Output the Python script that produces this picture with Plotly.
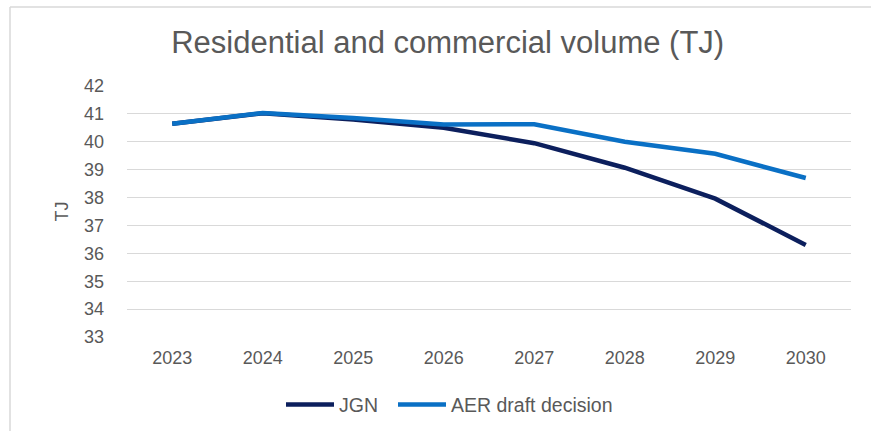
import plotly.graph_objects as go

years = ["2023", "2024", "2025", "2026", "2027", "2028", "2029", "2030"]
jgn = [40.65, 41.02, 40.80, 40.50, 39.95, 39.07, 37.96, 36.30]
aer = [40.65, 41.03, 40.85, 40.62, 40.63, 40.00, 39.57, 38.70]
y_ticks = [33, 34, 35, 36, 37, 38, 39, 40, 41, 42]

TEXT = "#595959"
FONT = "Liberation Sans, Arial, sans-serif"

fig = go.Figure()
fig.add_trace(go.Scatter(x=years, y=jgn, mode="lines", name="JGN",
                         line=dict(color="#0c1f5d", width=4.5), legend="legend"))
fig.add_trace(go.Scatter(x=years, y=aer, mode="lines", name="AER draft decision",
                         line=dict(color="#0a70c5", width=4.5), legend="legend2"))

leg_common = dict(orientation="h", xanchor="left", y=-0.27, yanchor="middle",
                  font=dict(size=19.5, color=TEXT, family=FONT), itemwidth=48,
                  bgcolor="rgba(0,0,0,0)")

fig.update_layout(
    width=871, height=431,
    margin=dict(l=127, r=20, t=86, b=94, autoexpand=False),
    paper_bgcolor="white", plot_bgcolor="white",
    font=dict(family=FONT, color=TEXT, size=18),
    title=dict(text="Residential and commercial volume (TJ)",
               x=0.514, xref="container", xanchor="center",
               y=1 - 42 / 431, yref="container", yanchor="middle",
               font=dict(size=31, color=TEXT, family=FONT)),
    showlegend=True,
    legend=dict(x=(281 - 127) / 724, **leg_common),
    legend2=dict(x=(393 - 127) / 724, **leg_common),
    xaxis=dict(type="category", range=[-0.5, 7.5], showgrid=False, showline=False,
               ticks="", zeroline=False, tickfont=dict(size=18, color=TEXT),
               ticklabelstandoff=8),
    yaxis=dict(range=[33, 42], tickvals=y_ticks, showgrid=True, gridcolor="#d9d9d9",
               gridwidth=1.2, showline=False, zeroline=False, ticks="",
               tickfont=dict(size=18, color=TEXT), ticklabelstandoff=22,
               title=dict(text="TJ", font=dict(size=18, color=TEXT), standoff=10)),
    shapes=[
        dict(type="line", xref="paper", yref="paper",
             x0=(10 - 127) / 724, x1=(871 - 127) / 724,
             y0=1 + 79 / 251, y1=1 + 79 / 251,
             line=dict(color="#d9d9d9", width=1.5)),
        dict(type="line", xref="paper", yref="paper",
             x0=(10 - 127) / 724, x1=(10 - 127) / 724,
             y0=1 + 79 / 251, y1=-94 / 251,
             line=dict(color="#d9d9d9", width=1.5)),
    ],
)

fig.write_html("out.html")
